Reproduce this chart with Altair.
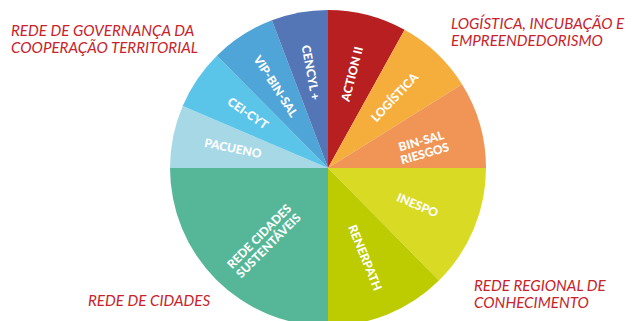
import altair as alt
import pandas as pd

names = ["ACTION II", "LOGÍSTICA", "BIN-SAL\nRIESGOS", "INESPO", "RENERPATH",
         "REDE CIDADES\nSUSTENTÁVEIS", "PACUENO", "CEI-CYT", "VIP-BIN-SAL", "CENCYL +"]
values = [29, 29, 32, 45.4, 44.6, 90, 23.1, 22.2, 23.9, 20.8]
colors = ["#B71F20", "#F5AE3B", "#F09556", "#D9DA23", "#BCCC00",
          "#55B798", "#A7D8E5", "#5BC4E9", "#4FA5D7", "#5476B6"]

group_labels = ["LOGÍSTICA, INCUBAÇÃO E\nEMPREENDEDORISMO",
                "REDE REGIONAL DE\nCONHECIMENTO",
                "REDE DE CIDADES",
                "REDE DE GOVERNANÇA DA\nCOOPERAÇÃO TERRITORIAL"]

total = sum(values)
angles = []
start = 0.0
for v in values:
    mid = (start + v / 2) / total * 360
    a = mid - 90 if mid < 180 else mid - 270
    angles.append(a % 360)
    start += v

df = pd.DataFrame({"name": names, "value": values, "idx": list(range(len(names))), "ang": angles})

CX, CY = 320, 160

base = alt.Chart(df).encode(
    theta=alt.Theta("value:Q", stack=True),
    order=alt.Order("idx:Q", sort="ascending"),
    x=alt.value(CX),
    y=alt.value(CY),
)

pie = base.mark_arc(outerRadius=158, stroke=None).encode(
    color=alt.Color("name:N", scale=alt.Scale(domain=names, range=colors), legend=None)
)

labels = base.mark_text(radius=97, font="Lato", fontWeight=900, fontSize=12,
                        color="white", align="center", baseline="middle",
                        lineBreak="\n", lineHeight=13).encode(
    text="name:N",
    angle=alt.Angle("ang:Q", scale=None),
)

def glabel(txt, x, y):
    return alt.Chart(pd.DataFrame({"t": [txt]})).mark_text(
        font="Lato", fontStyle="italic", fontSize=15.2, color="#C8232B",
        align="left", baseline="alphabetic", lineBreak="\n", lineHeight=17,
    ).encode(text="t:N", x=alt.value(x), y=alt.value(y))

g1 = glabel(group_labels[0], 443, 21)
g2 = glabel(group_labels[1], 466, 283)
g3 = glabel(group_labels[2], 80, 298)
g4 = glabel(group_labels[3], 3, 28)

chart = alt.layer(pie, labels, g1, g2, g3, g4).properties(
    width=618, height=313, autosize="none", padding=0
).configure_view(stroke=None)

chart.save("out.html", embed_options={"renderer": "svg", "actions": False})
